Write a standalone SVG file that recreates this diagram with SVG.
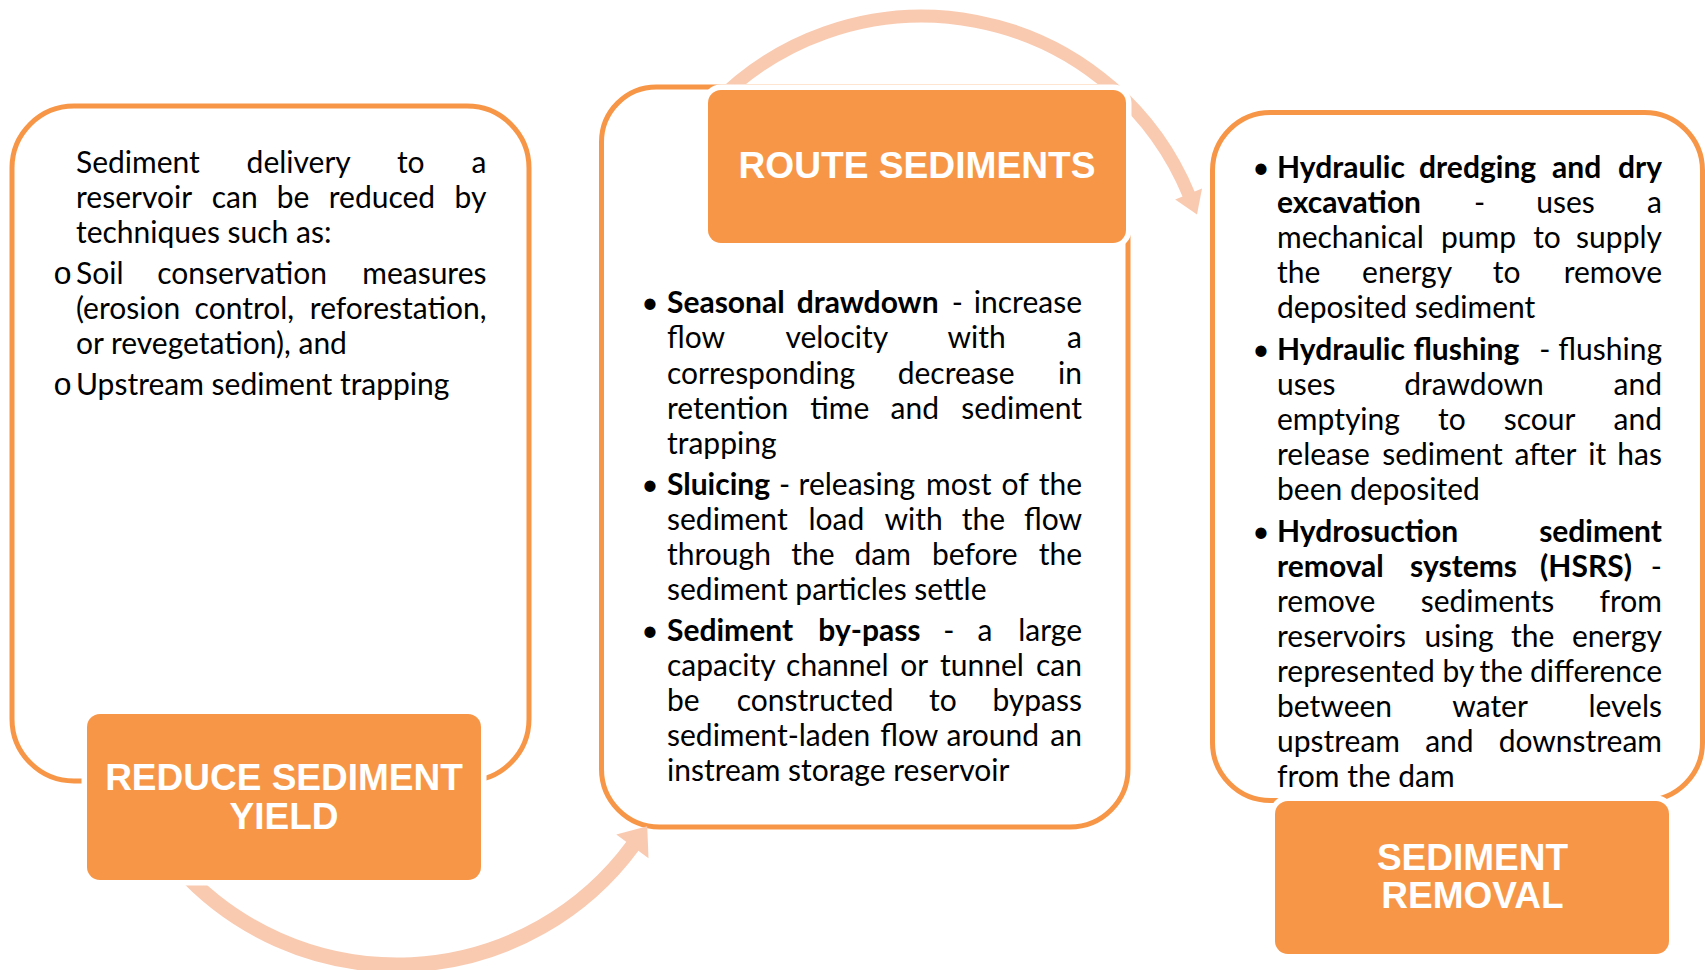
<svg xmlns="http://www.w3.org/2000/svg" width="1705" height="970" viewBox="0 0 1705 970">
<defs>
<style>
.box{fill:#fff;stroke:#F79646;stroke-width:5}
.lbl{fill:#F79646;stroke:#fff;stroke-width:11;paint-order:stroke}
.lt{font-family:"Liberation Sans",Arial,sans-serif;font-weight:700;font-size:37px;fill:#fff;text-anchor:middle}
.bt{font-family:Lato,"Open Sans",sans-serif;font-size:30px;fill:#000}
.b{font-weight:700}
.e{text-anchor:end}
.bul{font-family:Lato,"Open Sans",sans-serif;font-size:30px;fill:#000;text-anchor:middle}
.cir{font-family:"Liberation Mono",monospace;font-size:32px;fill:#000;text-anchor:middle}
.arc{fill:none;stroke:#F9CAB0}
.ah{fill:#F9CAB0}
</style>
<marker id="ahTop" markerUnits="userSpaceOnUse" orient="auto" viewBox="-2 -22 30 44" markerWidth="30" markerHeight="44" refX="0" refY="0"><path class="ah" d="M-1,-14.5 L21,0 L-1,14.5 Z"/></marker>
<marker id="ahBot" markerUnits="userSpaceOnUse" orient="auto" viewBox="-2 -22 30 44" markerWidth="30" markerHeight="44" refX="0" refY="0"><path class="ah" d="M-1,-20 L24,0 L-1,20 Z"/></marker>
</defs>
<rect width="1705" height="970" fill="#fff"/>

<g id="reduce">
<rect class="box" x="12" y="106" width="517" height="675" rx="62"/>
<text class="bt"><tspan x="76" y="172.5">Sediment</tspan><tspan x="246.6">delivery</tspan><tspan x="396.9">to</tspan><tspan class="e" x="486.5">a</tspan></text>
<text class="bt"><tspan x="76" y="207.5">reservoir</tspan><tspan x="211.8">can</tspan><tspan x="276.8">be</tspan><tspan x="328.8">reduced</tspan><tspan class="e" x="486.5">by</tspan></text>
<text class="bt" x="76" y="242.5">techniques such as:</text>
<text class="cir" x="62.5" y="284">o</text>
<text class="bt"><tspan x="76" y="284">Soil</tspan><tspan x="157.3">conservation</tspan><tspan class="e" x="486.5">measures</tspan></text>
<text class="bt"><tspan x="76" y="319">(erosion</tspan><tspan x="194.6">control,</tspan><tspan class="e" x="486.5">reforestation,</tspan></text>
<text class="bt" x="76" y="354">or revegetation), and</text>
<text class="cir" x="62.5" y="394.5">o</text>
<text class="bt" x="76" y="394.5">Upstream sediment trapping</text>
</g>

<g id="route">
<path class="box" d="M656.5,87 H1108 A20,20 0 0 1 1128,107 V769 A58,58 0 0 1 1070,827 H659.5 A58,58 0 0 1 601.5,769 V142 A55,55 0 0 1 656.5,87 Z"/>
<text class="bul" x="650" y="313.3">•</text>
<text class="bt"><tspan class="b" x="667" y="313.3">Seasonal</tspan><tspan class="b" x="796.7">drawdown</tspan><tspan x="951.8">-</tspan><tspan class="e" x="1082">increase</tspan></text>
<text class="bt"><tspan x="667" y="348.4">flow</tspan><tspan x="785.4">velocity</tspan><tspan x="947.4">with</tspan><tspan class="e" x="1082">a</tspan></text>
<text class="bt"><tspan x="667" y="383.5">corresponding</tspan><tspan x="897.7">decrease</tspan><tspan class="e" x="1082">in</tspan></text>
<text class="bt"><tspan x="667" y="418.6">retention</tspan><tspan x="810.3">time</tspan><tspan x="890.6">and</tspan><tspan class="e" x="1082">sediment</tspan></text>
<text class="bt" x="667" y="453.7">trapping</text>
<text class="bul" x="650" y="494.5">•</text>
<text class="bt"><tspan class="b" x="667" y="494.5">Sluicing</tspan><tspan x="778.9">-</tspan><tspan x="798.6">releasing</tspan><tspan x="926">most</tspan><tspan x="1001.6">of</tspan><tspan class="e" x="1082">the</tspan></text>
<text class="bt"><tspan x="667" y="529.6">sediment</tspan><tspan x="808.5">load</tspan><tspan x="884.4">with</tspan><tspan x="961.7">the</tspan><tspan class="e" x="1082">flow</tspan></text>
<text class="bt"><tspan x="667" y="564.7">through</tspan><tspan x="791.3">the</tspan><tspan x="854.5">dam</tspan><tspan x="932">before</tspan><tspan class="e" x="1082">the</tspan></text>
<text class="bt" x="667" y="599.8">sediment particles settle</text>
<text class="bul" x="650" y="640.5">•</text>
<text class="bt"><tspan class="b" x="667" y="640.5">Sediment</tspan><tspan class="b" x="818.3">by-pass</tspan><tspan x="943.3">-</tspan><tspan x="977.4">a</tspan><tspan class="e" x="1082">large</tspan></text>
<text class="bt"><tspan x="667" y="675.6">capacity</tspan><tspan x="786.1">channel</tspan><tspan x="900.3">or</tspan><tspan x="940">tunnel</tspan><tspan class="e" x="1082">can</tspan></text>
<text class="bt"><tspan x="667" y="710.7">be</tspan><tspan x="736.8">constructed</tspan><tspan x="929">to</tspan><tspan class="e" x="1082">bypass</tspan></text>
<text class="bt"><tspan x="667" y="745.8">sediment-laden</tspan><tspan x="880.3">flow</tspan><tspan x="946.5">around</tspan><tspan class="e" x="1082">an</tspan></text>
<text class="bt" x="667" y="780.9">instream storage reservoir</text>
</g>

<g id="removal">
<rect class="box" x="1212.5" y="112.5" width="490" height="688" rx="58"/>
<text class="bul" x="1261" y="177.5">•</text>
<text class="bt"><tspan class="b" x="1277" y="177.5">Hydraulic</tspan><tspan class="b" x="1419.1">dredging</tspan><tspan class="b" x="1552.1">and</tspan><tspan class="b e" x="1662">dry</tspan></text>
<text class="bt"><tspan class="b" x="1277" y="212.6">excavation</tspan><tspan x="1474">-</tspan><tspan x="1536.2">uses</tspan><tspan class="e" x="1662">a</tspan></text>
<text class="bt"><tspan x="1277" y="247.7">mechanical</tspan><tspan x="1441">pump</tspan><tspan x="1533.2">to</tspan><tspan class="e" x="1662">supply</tspan></text>
<text class="bt"><tspan x="1277" y="282.8">the</tspan><tspan x="1362.1">energy</tspan><tspan x="1492.8">to</tspan><tspan class="e" x="1662">remove</tspan></text>
<text class="bt" x="1277" y="317.9">deposited sediment</text>
<text class="bul" x="1261" y="359.5">•</text>
<text class="bt"><tspan class="b" x="1277" y="359.5">Hydraulic</tspan><tspan class="b" x="1413.5">flushing</tspan><tspan x="1539.2">-</tspan><tspan class="e" x="1662">flushing</tspan></text>
<text class="bt"><tspan x="1277" y="394.6">uses</tspan><tspan x="1404.2">drawdown</tspan><tspan class="e" x="1662">and</tspan></text>
<text class="bt"><tspan x="1277" y="429.7">emptying</tspan><tspan x="1438.1">to</tspan><tspan x="1503.8">scour</tspan><tspan class="e" x="1662">and</tspan></text>
<text class="bt"><tspan x="1277" y="464.8">release</tspan><tspan x="1382.2">sediment</tspan><tspan x="1514.6">after</tspan><tspan x="1588.3">it</tspan><tspan class="e" x="1662">has</tspan></text>
<text class="bt" x="1277" y="499.9">been deposited</text>
<text class="bul" x="1261" y="541.7">•</text>
<text class="bt"><tspan class="b" x="1277" y="541.7">Hydrosuction</tspan><tspan class="b e" x="1662">sediment</tspan></text>
<text class="bt"><tspan class="b" x="1277" y="576.8">removal</tspan><tspan class="b" x="1410.1">systems</tspan><tspan class="b" x="1540.1">(HSRS)</tspan><tspan class="e" x="1662">-</tspan></text>
<text class="bt"><tspan x="1277" y="611.8">remove</tspan><tspan x="1420.7">sediments</tspan><tspan class="e" x="1662">from</tspan></text>
<text class="bt"><tspan x="1277" y="646.9">reservoirs</tspan><tspan x="1424.4">using</tspan><tspan x="1510.9">the</tspan><tspan class="e" x="1662">energy</tspan></text>
<text class="bt"><tspan x="1277" y="681.9">represented</tspan><tspan x="1442.6">by</tspan><tspan x="1479.5">the</tspan><tspan class="e" x="1662">difference</tspan></text>
<text class="bt"><tspan x="1277" y="717">between</tspan><tspan x="1452.3">water</tspan><tspan class="e" x="1662">levels</tspan></text>
<text class="bt"><tspan x="1277" y="752">upstream</tspan><tspan x="1425.2">and</tspan><tspan class="e" x="1662">downstream</tspan></text>
<text class="bt" x="1277" y="787">from the dam</text>
</g>

<g id="connectors">
<path class="arc" stroke-width="15" d="M179.4,868.1 A292.8,292.8 0 0 0 633,845.5" marker-end="url(#ahBot)"/>
<path class="arc" stroke-width="13" d="M714.1,104.2 A289,289 0 0 1 1189,195" marker-end="url(#ahTop)"/>
</g>

<g id="reduce-title">
<rect class="lbl" x="87" y="714" width="394" height="166" rx="13"/>
<text class="lt" x="284" y="790">REDUCE SEDIMENT</text>
<text class="lt" x="284" y="829">YIELD</text>
</g>

<g id="route-title">
<rect class="lbl" x="708" y="90" width="418" height="153" rx="13"/>
<text class="lt" x="917" y="178.3" textLength="357" lengthAdjust="spacingAndGlyphs">ROUTE SEDIMENTS</text>
</g>

<g id="removal-title">
<rect class="lbl" x="1275" y="801" width="394" height="153" rx="13"/>
<text class="lt" x="1472.5" y="870">SEDIMENT</text>
<text class="lt" x="1472.5" y="908.3">REMOVAL</text>
</g>
</svg>
